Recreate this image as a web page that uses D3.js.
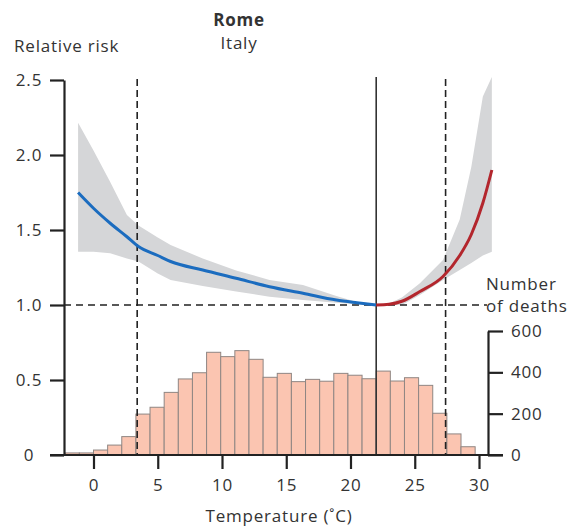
<!DOCTYPE html>
<html>
<head>
<meta charset="utf-8">
<script src="https://cdn.jsdelivr.net/npm/d3@7"></script>
<style>
  body { margin: 0; background: #fff; }
  svg { font-family: "Open Sans", sans-serif; }
</style>
</head>
<body>
<svg width="570" height="528"></svg>
<script>
// temperature grid of the fitted curve (°C)
var coldTemps = [-1.2, 0, 1.3, 2.6, 3.5, 5, 6, 8.5, 11.1, 13.7, 16.3, 18.9, 20.5, 22];
var coldRR    = [1.75, 1.645, 1.545, 1.455, 1.39, 1.33, 1.29, 1.233, 1.178, 1.122, 1.078, 1.033, 1.015, 1.0];
var hotTemps  = [22, 23, 24, 25.4, 27.2, 28.5, 29.4, 30.3, 31];
var hotRR     = [1.0, 1.005, 1.025, 1.09, 1.19, 1.33, 1.47, 1.68, 1.9];

// confidence band
var bandTemps = [-1.2, 0, 1.3, 2.6, 3.5, 5, 6, 8.5, 11.1, 13.7, 16.3, 18.9, 20.5, 22, 23, 24, 25.4, 27.2, 28.5, 29.4, 30.3, 31];
var bandLow   = [1.355, 1.355, 1.345, 1.31, 1.29, 1.21, 1.167, 1.127, 1.09, 1.055, 1.033, 1.015, 1.005, 1.0, 1.0, 1.0, 1.067, 1.167, 1.233, 1.28, 1.33, 1.355];
var bandHigh  = [2.215, 2.03, 1.82, 1.6, 1.53, 1.45, 1.4, 1.31, 1.23, 1.167, 1.133, 1.06, 1.02, 1.0, 1.01, 1.05, 1.145, 1.3, 1.57, 1.92, 2.39, 2.52];

// histogram of deaths
var binStarts = [-2.2, -1.1, 0, 1.1, 2.2, 3.3, 4.4, 5.5, 6.6, 7.7, 8.8, 9.9, 11, 12.1, 13.2, 14.3, 15.4, 16.5, 17.6, 18.7, 19.8, 20.9, 22, 23.1, 24.2, 25.3, 26.4, 27.5, 28.6];
var binWidth = 1.1;
var deaths = [10, 10, 24, 48, 89, 198, 231, 303, 368, 398, 497, 476, 505, 463, 376, 395, 355, 366, 357, 395, 386, 369, 406, 358, 374, 337, 202, 102, 40];

// reference temperatures
var mmt = 22;
var pctLow = 3.4, pctHigh = 27.4;

var xTicks = [0, 5, 10, 15, 20, 25, 30];
var rrTicks = [0, 0.5, 1.0, 1.5, 2.0, 2.5];
var deathTicks = [0, 200, 400, 600];

var svg = d3.select("svg");

var x = d3.scaleLinear().domain([0, 30]).range([93.5, 479]);
var y = d3.scaleLinear().domain([0, 2.5]).range([455, 80]);
var yd = d3.scaleLinear().domain([0, 600]).range([455, 331]);

var leftX = 64, rightX = 488;
var fontSize = 17, spacing = "0.8px";

// band
var band = bandTemps.map(function (t, i) { return {t: t, lo: bandLow[i], hi: bandHigh[i]}; });
svg.append("path")
    .datum(band)
    .attr("fill", "#d5d6d8")
    .attr("d", d3.area()
        .x(function (d) { return x(d.t); })
        .y0(function (d) { return y(d.lo); })
        .y1(function (d) { return y(d.hi); }));

// histogram
svg.append("g")
    .selectAll("rect")
    .data(binStarts)
    .enter().append("rect")
    .attr("x", function (d) { return x(d); })
    .attr("width", function (d) { return x(d + binWidth) - x(d); })
    .attr("y", function (d, i) { return yd(deaths[i]); })
    .attr("height", function (d, i) { return yd(0) - yd(deaths[i]); })
    .attr("fill", "#fbc5b1")
    .attr("stroke", "#8f8683")
    .attr("stroke-width", 1);

// reference lines
svg.append("line")
    .attr("x1", leftX).attr("x2", rightX - 1)
    .attr("y1", y(1)).attr("y2", y(1))
    .attr("stroke", "#222").attr("stroke-width", 1.6)
    .attr("stroke-dasharray", "7,5");

[pctLow, pctHigh].forEach(function (t) {
    svg.append("line")
        .attr("x1", x(t)).attr("x2", x(t))
        .attr("y1", 79).attr("y2", 455)
        .attr("stroke", "#222").attr("stroke-width", 1.6)
        .attr("stroke-dasharray", "7,4");
});

svg.append("line")
    .attr("x1", x(mmt)).attr("x2", x(mmt))
    .attr("y1", 77).attr("y2", 455)
    .attr("stroke", "#333").attr("stroke-width", 1.6);

// curves
var line = d3.line()
    .x(function (d) { return x(d[0]); })
    .y(function (d) { return y(d[1]); })
    .curve(d3.curveMonotoneX);

svg.append("path")
    .datum(coldTemps.map(function (t, i) { return [t, coldRR[i]]; }))
    .attr("fill", "none").attr("stroke", "#1b6cbf").attr("stroke-width", 3)
    .attr("d", line);

svg.append("path")
    .datum(hotTemps.map(function (t, i) { return [t, hotRR[i]]; }))
    .attr("fill", "none").attr("stroke", "#b3262d").attr("stroke-width", 3)
    .attr("d", line);

// axes
svg.append("line")
    .attr("x1", 50).attr("x2", 503)
    .attr("y1", 455).attr("y2", 455)
    .attr("stroke", "#222").attr("stroke-width", 2.2);

var gx = svg.append("g")
    .attr("transform", "translate(0,455)")
    .call(d3.axisBottom(x).tickValues(xTicks).tickSize(14).tickSizeOuter(0));
gx.select(".domain").remove();

var gy = svg.append("g")
    .attr("transform", "translate(" + leftX + ",0)")
    .call(d3.axisLeft(y).tickValues(rrTicks).tickSize(14).tickSizeOuter(0)
        .tickFormat(function (d) { return d === 0 ? "0" : d3.format(".1f")(d); }));
gy.selectAll(".tick text").attr("x", -35).attr("text-anchor", "middle");

var gr = svg.append("g")
    .attr("transform", "translate(" + rightX + ",0)")
    .call(d3.axisRight(yd).tickValues(deathTicks).tickSize(15).tickSizeOuter(0));
gr.selectAll(".tick text").attr("x", 23);

svg.selectAll(".tick line").attr("stroke", "#222").attr("stroke-width", 2.2);
svg.selectAll(".domain").attr("stroke", "#222").attr("stroke-width", 2.2);
svg.selectAll(".tick text")
    .attr("font-family", "Open Sans")
    .attr("font-size", fontSize)
    .attr("letter-spacing", spacing)
    .attr("fill", "#333");
gx.selectAll(".tick text").attr("y", 24);

// texts
function label(txt, tx, ty, anchor, weight) {
    svg.append("text")
        .attr("x", tx).attr("y", ty)
        .attr("text-anchor", anchor)
        .attr("font-size", fontSize)
        .attr("letter-spacing", spacing)
        .attr("font-weight", weight || "normal")
        .attr("fill", "#333")
        .text(txt);
}
label("Rome", 239, 26, "middle", "bold");
label("Italy", 239, 49, "middle");
label("Relative risk", 14, 52, "start");
label("Number", 486, 290, "start");
label("of deaths", 486, 312, "start");
label("Temperature (˚C)", 279, 522, "middle");
</script>
</body>
</html>
